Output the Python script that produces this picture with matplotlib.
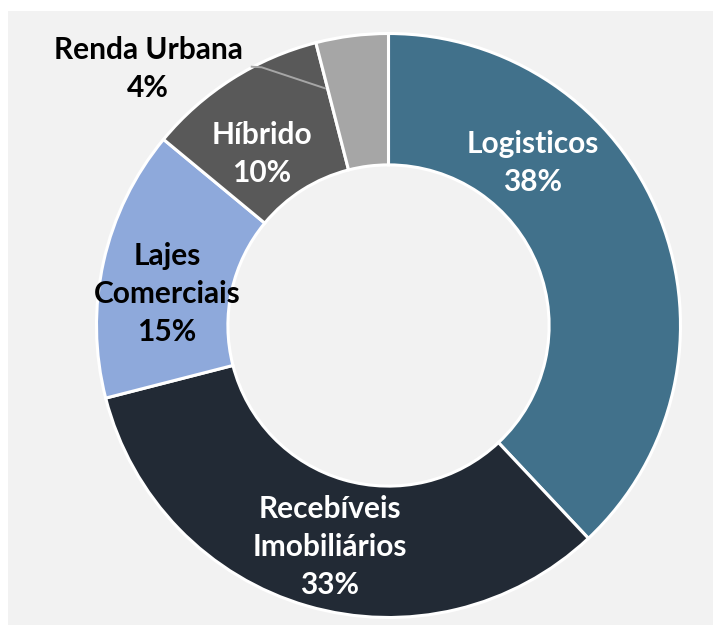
import matplotlib
matplotlib.use("Agg")
import matplotlib.pyplot as plt
from matplotlib.patches import Rectangle

categories = ["Logisticos", "Recebíveis\nImobiliários", "Lajes\nComerciais", "Híbrido", "Renda Urbana"]
values = [38, 33, 15, 10, 4]
colors = ["#41718B", "#222A35", "#8EA9DB", "#595959", "#A6A6A6"]
text_colors = ["white", "white", "black", "white", "black"]
# label block centres in pixel coordinates (x, y from top)
label_pos = [(533, 163), (330, 547), (167, 294), (262, 154), (148, 69)]

W, H = 713, 626
fig = plt.figure(figsize=(W / 100, H / 100), dpi=100)
fig.patch.set_facecolor("white")
ax = fig.add_axes([0, 0, 1, 1])
ax.set_xlim(0, W)
ax.set_ylim(0, H)
ax.set_aspect("equal")
ax.axis("off")

ax.add_patch(Rectangle((8, H - 625), W - 8, 625 - 11, facecolor="#F2F2F2", edgecolor="none", zorder=0))

cx, cy, R = 388.5, H - 325.5, 292
ax.pie(values, colors=colors, startangle=90, counterclock=False,
       center=(cx, cy), radius=R, frame=True,
       wedgeprops=dict(width=R * 0.45, edgecolor="white", linewidth=2.2))
ax.set_xlim(0, W)
ax.set_ylim(0, H)
ax.axis("off")

for cat, v, tc, (x, y) in zip(categories, values, text_colors, label_pos):
    ax.text(x, H - y, f"{cat}\n{v}%", ha="center", va="center", color=tc,
            fontsize=21.5, fontweight="bold", family=["Lato", "DejaVu Sans"],
            linespacing=1.42, zorder=5)

# leader line for Renda Urbana
ax.plot([251.7, 261.7, 325], [H - 66.7, H - 67.3, H - 88.3], color="#A6A6A6", lw=1.4, zorder=4)

fig.savefig("out.png", dpi=100, facecolor=fig.get_facecolor())
